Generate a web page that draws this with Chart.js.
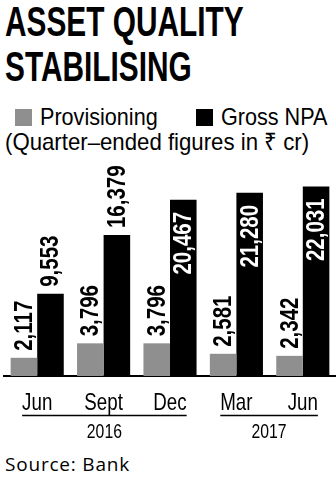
<!DOCTYPE html>
<html>
<head>
<meta charset="utf-8">
<script src="https://cdn.jsdelivr.net/npm/chart.js@4.4.0/dist/chart.umd.min.js"></script>
<style>
html, body { margin: 0; padding: 0; background: #fff; }
body { width: 336px; height: 477px; position: relative; overflow: hidden; color: #000;
       font-family: "Liberation Sans", Arial, sans-serif; }
.title { position: absolute; left: 5px; font-weight: bold; font-size: 42px; line-height: 42px;
         white-space: nowrap; transform: scaleX(0.71); transform-origin: left top; }
#legend { position: absolute; left: 15px; top: 105px; display: flex; align-items: center;
          font-size: 24px; line-height: 24px; white-space: nowrap; }
#legend .item { display: flex; align-items: center; margin-right: 25px; }
#legend .box { width: 17px; height: 17px; margin-right: 8px; }
#legend .txt { display: inline-block; transform: scaleX(0.9); transform-origin: left center; }
.sub { position: absolute; left: 5px; top: 130px; font-size: 24px; line-height: 24px;
       white-space: nowrap; transform: scaleX(0.925); transform-origin: left top; }
#wrap { position: absolute; left: 0; top: 160px; width: 336px; height: 290px; }
.source { position: absolute; left: 5px; top: 455px; font-family: "Open Sans", sans-serif;
          font-size: 19px; line-height: 19px; letter-spacing: 0.8px; white-space: nowrap; }
</style>
</head>
<body>
<div class="title" style="top:1px">ASSET QUALITY</div>
<div class="title" style="top:46px">STABILISING</div>
<div id="legend"></div>
<div class="sub">(Quarter–ended figures in ₹ cr)</div>
<div id="wrap"><canvas id="npaChart" width="336" height="290"></canvas></div>
<div class="source">Source: Bank</div>
<script>
// data
const quarters = ['Jun', 'Sept', 'Dec', 'Mar', 'Jun'];
const years = ['2016', '2017'];
const yearFirst = [0, 3];
const yearLast = [2, 4];
const seriesNames = ['Provisioning', 'Gross NPA'];
const seriesColors = ['#8f8f8f', '#000000'];
const provisioning = [2117, 3796, 3796, 2581, 2342];
const grossNpa = [9553, 16379, 20467, 21280, 22031];

const sans = '"Liberation Sans", Arial, sans-serif';

// legend
const legend = document.getElementById('legend');
seriesNames.forEach((name, i) => {
    const item = document.createElement('span');
    item.className = 'item';
    const box = document.createElement('span');
    box.className = 'box';
    box.style.background = seriesColors[i];
    const txt = document.createElement('span');
    txt.className = 'txt';
    txt.textContent = name;
    item.appendChild(box);
    item.appendChild(txt);
    legend.appendChild(item);
});

// draw text squeezed horizontally (the original uses a condensed face)
function narrowText(ctx, text, x, y, squeeze, align) {
    const w = ctx.measureText(text).width * squeeze;
    let x0 = x;
    if (align === 'center') x0 = x - w / 2;
    if (align === 'right') x0 = x - w;
    ctx.save();
    ctx.translate(x0, y);
    ctx.scale(squeeze, 1);
    ctx.textAlign = 'left';
    ctx.fillText(text, 0, 0);
    ctx.restore();
    return w;
}

// rotated value labels, inside the bar when there is no room above it
const barLabels = {
    id: 'barLabels',
    afterDatasetsDraw(chart) {
        const ctx = chart.ctx;
        const top = chart.chartArea.top;
        ctx.save();
        ctx.font = 'bold 25px ' + sans;
        ctx.textBaseline = 'alphabetic';
        chart.data.datasets.forEach((ds, i) => {
            chart.getDatasetMeta(i).data.forEach((bar, j) => {
                const text = ds.data[j].toLocaleString('en-US');
                const w = ctx.measureText(text).width * 0.82;
                const inside = bar.y - 7 - w < top;
                ctx.save();
                ctx.translate(bar.x + 8, inside ? bar.y + 12 : bar.y - 7);
                ctx.rotate(-Math.PI / 2);
                ctx.fillStyle = inside ? '#fff' : '#000';
                narrowText(ctx, text, 0, 0, 0.82, inside ? 'right' : 'left');
                ctx.restore();
            });
        });
        ctx.restore();
    }
};

// quarter labels, year rules and year labels under the axis
const quarterAxis = {
    id: 'quarterAxis',
    afterDraw(chart) {
        const ctx = chart.ctx;
        const x = chart.scales.x;
        const base = chart.chartArea.bottom;
        const tickSqueeze = 0.78;
        ctx.save();
        ctx.fillStyle = '#000';
        ctx.textBaseline = 'alphabetic';
        ctx.font = '24px ' + sans;
        const halfW = quarters.map(q => ctx.measureText(q).width * tickSqueeze / 2);
        quarters.forEach((q, i) => {
            narrowText(ctx, q, x.getPixelForTick(i), base + 34, tickSqueeze, 'center');
        });
        years.forEach((yr, k) => {
            const a = yearFirst[k], b = yearLast[k];
            const left = x.getPixelForTick(a) - halfW[a];
            const right = x.getPixelForTick(b) + halfW[b];
            ctx.strokeStyle = '#000';
            ctx.lineWidth = 1.5;
            ctx.beginPath();
            ctx.moveTo(left, base + 39.5);
            ctx.lineTo(right, base + 39.5);
            ctx.stroke();
            ctx.font = '21px ' + sans;
            narrowText(ctx, yr, (left + right) / 2, base + 62, 0.75, 'center');
            ctx.font = '24px ' + sans;
        });
        ctx.restore();
    }
};

const ctx = document.getElementById('npaChart').getContext('2d');
new Chart(ctx, {
    type: 'bar',
    data: {
        labels: quarters,
        datasets: [{
            label: seriesNames[0],
            data: provisioning,
            backgroundColor: seriesColors[0]
        }, {
            label: seriesNames[1],
            data: grossNpa,
            backgroundColor: seriesColors[1]
        }]
    },
    options: {
        responsive: false,
        animation: false,
        categoryPercentage: 0.8,
        barPercentage: 1.0,
        layout: { padding: { top: 0, left: 4, right: 0, bottom: 74 } },
        plugins: {
            legend: { display: false },
            tooltip: { enabled: false }
        },
        scales: {
            x: {
                grid: { display: false, drawTicks: false },
                border: { color: '#000', width: 2 },
                ticks: { display: false }
            },
            y: {
                display: false,
                min: 0,
                max: 25100
            }
        }
    },
    plugins: [barLabels, quarterAxis]
});
</script>
</body>
</html>
